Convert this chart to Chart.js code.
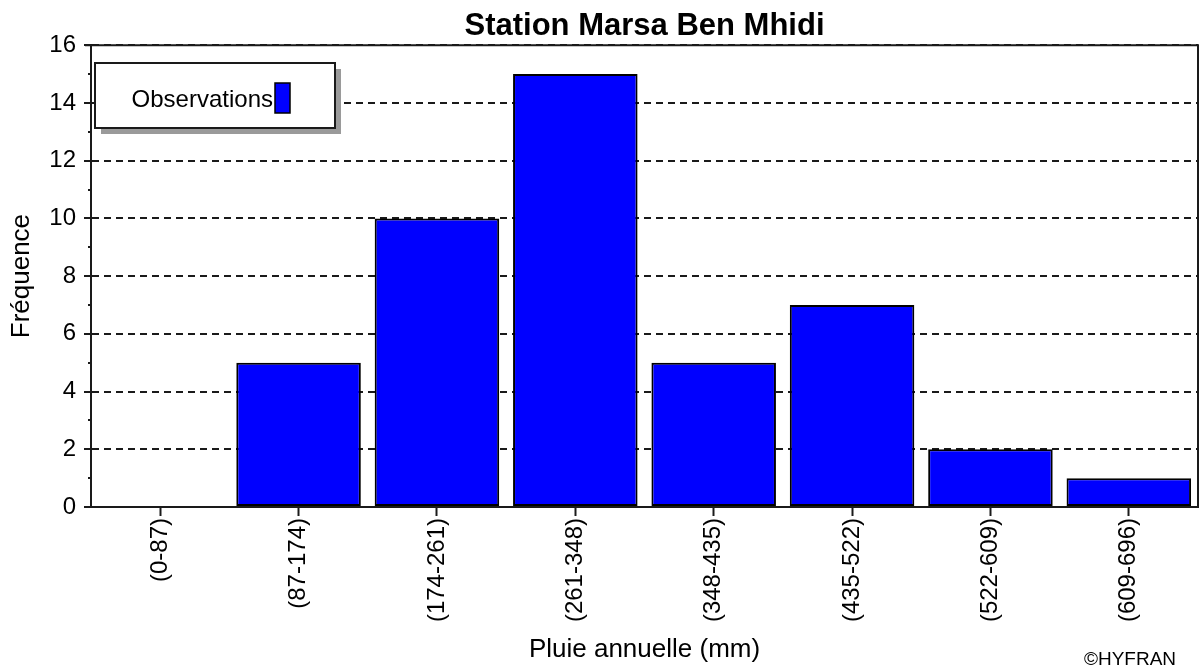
<!DOCTYPE html>
<html>
<head>
<meta charset="utf-8">
<script src="https://cdn.jsdelivr.net/npm/chart.js@4.4.1/dist/chart.umd.min.js"></script>
<style>
  html, body { margin: 0; padding: 0; background: #fff; }
  #wrap { width: 1200px; height: 671px; }
</style>
</head>
<body>
<div id="wrap"><canvas id="chart" width="1200" height="671"></canvas></div>
<script>
const chartTitle = "Station Marsa Ben Mhidi";
const seriesName = "Observations";
const categories = ["(0-87)", "(87-174)", "(174-261)", "(261-348)", "(348-435)", "(435-522)", "(522-609)", "(609-696)"];
const observations = [0, 5, 10, 15, 5, 7, 2, 1];
const yMin = 0;
const yMax = 16;
const yStep = 2;
const xAxisTitle = "Pluie annuelle (mm)";
const yAxisTitle = "Fréquence";
const credit = "©HYFRAN";

const FONT = "'Liberation Sans', Arial, sans-serif";
const INK = "#1a1a1a";

// frame, minor ticks, legend box and credit drawn on top
const extras = {
  id: "extras",
  afterDraw(chart) {
    const ctx = chart.ctx;
    const area = chart.chartArea;
    const y = chart.scales.y;
    ctx.save();

    // top and right border
    ctx.strokeStyle = INK;
    ctx.lineWidth = 2;
    ctx.beginPath();
    ctx.moveTo(area.left - 6, area.top);
    ctx.lineTo(area.right, area.top);
    ctx.lineTo(area.right, area.bottom);
    ctx.stroke();

    // minor ticks on the y axis
    for (let v = yMin + 1; v < yMax; v += yStep) {
      const py = Math.round(y.getPixelForValue(v));
      ctx.beginPath();
      ctx.moveTo(area.left - 3, py);
      ctx.lineTo(area.left, py);
      ctx.stroke();
    }

    // legend box with shadow
    const bx = 95, by = 63, bw = 240, bh = 65;
    ctx.fillStyle = "#9a9a9a";
    ctx.fillRect(bx + 6, by + 6, bw, bh);
    ctx.fillStyle = "#fff";
    ctx.fillRect(bx, by, bw, bh);
    ctx.strokeStyle = INK;
    ctx.lineWidth = 2;
    ctx.strokeRect(bx, by, bw, bh);

    ctx.font = "24px " + FONT;
    ctx.fillStyle = "#000";
    ctx.textBaseline = "middle";
    ctx.textAlign = "right";
    ctx.fillText(seriesName, 273, 100);
    ctx.fillStyle = chart.data.datasets[0].backgroundColor;
    ctx.fillRect(275, 83, 15, 30);
    ctx.strokeStyle = "#000";
    ctx.lineWidth = 1.5;
    ctx.strokeRect(275, 83, 15, 30);

    // credit
    ctx.font = "19px " + FONT;
    ctx.fillStyle = "#000";
    ctx.textAlign = "center";
    ctx.fillText(credit, 1130, 660);
    ctx.restore();
  }
};

const ctx = document.getElementById("chart").getContext("2d");
new Chart(ctx, {
  type: "bar",
  data: {
    labels: categories,
    datasets: [
      {
        label: seriesName,
        data: observations,
        backgroundColor: "#0000ff",
        borderColor: "#000",
        borderWidth: 2,
        borderSkipped: false,
        barPercentage: 0.9,
        categoryPercentage: 1.0,
      },
    ],
  },
  options: {
    responsive: false,
    animation: false,
    layout: { padding: { left: 0, right: 2, top: 0, bottom: 0 } },
    plugins: {
      legend: { display: false },
      tooltip: { enabled: false },
      title: {
        display: true,
        fullSize: false,
        text: chartTitle,
        color: "#000",
        font: { family: FONT, size: 31, weight: "bold" },
        padding: { top: 8, bottom: 0 },
      },
    },
    scales: {
      x: {
        afterFit: (s) => { s.height = 164; },
        border: { display: true, color: INK, width: 2 },
        grid: {
          display: true,
          offset: false,
          drawOnChartArea: false,
          drawTicks: true,
          tickLength: 9,
          tickColor: INK,
          tickWidth: 2,
        },
        ticks: {
          minRotation: 90,
          maxRotation: 90,
          autoSkip: false,
          padding: 2,
          color: "#000",
          font: { family: FONT, size: 24 },
        },
        title: {
          display: true,
          text: xAxisTitle,
          color: "#000",
          font: { family: FONT, size: 26 },
          padding: { top: 0, bottom: 6 },
        },
      },
      y: {
        min: yMin,
        max: yMax,
        afterFit: (s) => { s.width = 91; },
        border: { display: true, color: INK, width: 2, dash: [7, 5] },
        grid: {
          color: INK,
          lineWidth: 2,
          tickBorderDash: [],
          tickLength: 7,
          tickColor: INK,
          tickWidth: 2,
        },
        ticks: {
          stepSize: yStep,
          padding: 8,
          color: "#000",
          font: { family: FONT, size: 24 },
        },
        title: {
          display: true,
          text: yAxisTitle,
          color: "#000",
          font: { family: FONT, size: 26 },
          padding: { top: 6, bottom: 0 },
        },
      },
    },
  },
  plugins: [extras],
});
</script>
</body>
</html>
